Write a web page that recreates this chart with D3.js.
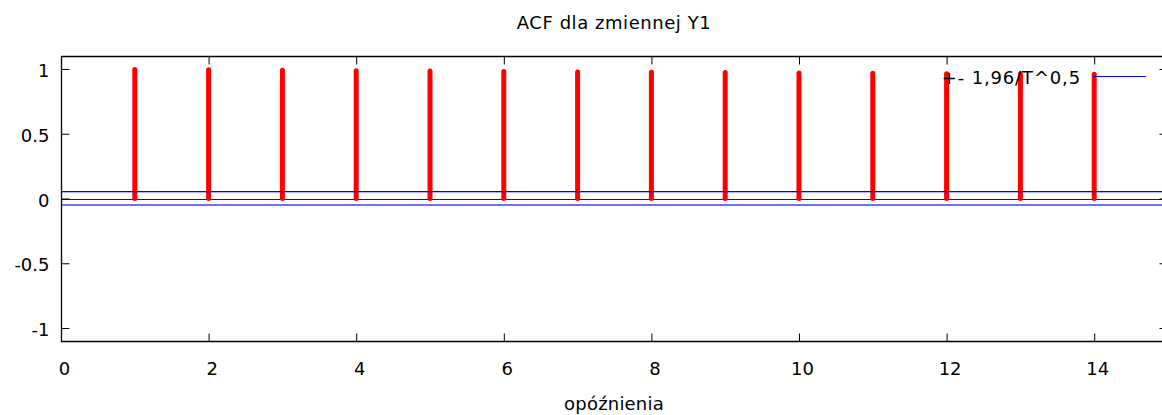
<!DOCTYPE html>
<html>
<head>
<meta charset="utf-8">
<script src="https://cdn.jsdelivr.net/npm/d3@7"></script>
<style>
  body { margin: 0; background: #fff; }
  svg { display: block; font-family: "DejaVu Sans", Verdana, sans-serif; }
</style>
</head>
<body>
<svg id="chart" width="1162" height="415"></svg>
<script>
const lags = [1, 2, 3, 4, 5, 6, 7, 8, 9, 10, 11, 12, 13, 14];
const acfValues = [0.996, 0.993, 0.990, 0.987, 0.984, 0.981, 0.977, 0.974, 0.972, 0.969, 0.966, 0.963, 0.961, 0.959];
const bandValue = 0.0524;
const xTicks = [0, 2, 4, 6, 8, 10, 12, 14];
const yTicks = [-1, -0.5, 0, 0.5, 1];
const titleText = "ACF dla zmiennej Y1";
const xLabelText = "opóźnienia";
const legendText = "+- 1,96/T^0,5";

(function () {
const svg = d3.select("#chart");
const W = 1162, H = 415;
const mLeft = 61, mRight = 1168, mTop = 56, mBottom = 341;
const FS = 18;

const x = d3.scaleLinear().domain([0, 15]).range([mLeft, mRight]);
const y = d3.scaleLinear().domain([-1.1, 1.1]).range([mBottom, mTop]);

svg.append("rect").attr("width", W).attr("height", H).attr("fill", "#fff");

// zero line
svg.append("line")
  .attr("x1", mLeft).attr("x2", mRight)
  .attr("y1", Math.round(y(0)) + 0.5).attr("y2", Math.round(y(0)) + 0.5)
  .attr("stroke", "#222").attr("stroke-width", 1);

// stems
svg.append("g").selectAll("line").data(lags).join("line")
  .attr("x1", d => x(d)).attr("x2", d => x(d))
  .attr("y1", y(0)).attr("y2", (d, i) => y(acfValues[i]))
  .attr("stroke", "#ff0000").attr("stroke-width", 5).attr("stroke-linecap", "round");

// bands: upper crisp, lower straddling pixels (as in reference)
svg.append("rect")
  .attr("x", mLeft).attr("width", mRight - mLeft)
  .attr("y", Math.floor(y(bandValue))).attr("height", 1.3)
  .attr("fill", "#0000ff");
svg.append("rect")
  .attr("x", mLeft).attr("width", mRight - mLeft)
  .attr("y", Math.round(y(-bandValue)) - 1).attr("height", 2)
  .attr("fill", "#7070f0");

// border
svg.append("path")
  .attr("d", `M${mLeft + 0.5},${mTop + 0.5} L${mRight},${mTop + 0.5} M${mLeft + 0.5},${mTop} L${mLeft + 0.5},${mBottom + 0.5} L${mRight},${mBottom + 0.5} M${mRight - 0.5},${mTop} L${mRight - 0.5},${mBottom}`)
  .attr("fill", "none").attr("stroke", "#000").attr("stroke-width", 1.3);

// axes with inward ticks
const gx = svg.append("g").attr("transform", `translate(0,${mBottom + 0.5})`)
  .call(d3.axisBottom(x).tickValues(xTicks).tickSize(-8).tickFormat(d3.format("d")));
const gxTop = svg.append("g").attr("transform", `translate(0,${mTop + 0.5})`)
  .call(d3.axisTop(x).tickValues(xTicks).tickSize(-8).tickFormat(""));
const gy = svg.append("g").attr("transform", `translate(${mLeft + 0.5},0)`)
  .call(d3.axisLeft(y).tickValues(yTicks).tickSize(-8).tickFormat(d => String(d)));
const gyR = svg.append("g").attr("transform", `translate(${mRight - 0.5},0)`)
  .call(d3.axisRight(y).tickValues(yTicks).tickSize(-8).tickFormat(""));

[gx, gxTop, gy, gyR].forEach(g => {
  g.select(".domain").remove();
  g.selectAll(".tick line").attr("stroke", "#000");
  g.selectAll("text").attr("font-family", "DejaVu Sans").attr("font-size", FS).attr("fill", "#000");
});
gx.selectAll("text").attr("y", 33.5).attr("dy", null).attr("dx", 3);
gy.selectAll("text").attr("x", -12).attr("dy", "0.42em");

// title
svg.append("text").attr("x", 614).attr("y", 29).attr("text-anchor", "middle")
  .attr("font-size", FS).attr("letter-spacing", 0.55).attr("fill", "#000").text(titleText);
// x label
svg.append("text").attr("x", 614).attr("y", 410).attr("text-anchor", "middle")
  .attr("font-size", FS).attr("letter-spacing", 0.2).attr("fill", "#000").text(xLabelText);

// legend
svg.append("text").attr("x", 1081).attr("y", 84).attr("text-anchor", "end")
  .attr("font-size", FS).attr("letter-spacing", 0.85).attr("fill", "#000").text(legendText);
svg.append("line").attr("x1", 1093).attr("x2", 1146).attr("y1", 76.5).attr("y2", 76.5)
  .attr("stroke", "#0000ff").attr("stroke-width", 1);
})();
</script>
</body>
</html>
